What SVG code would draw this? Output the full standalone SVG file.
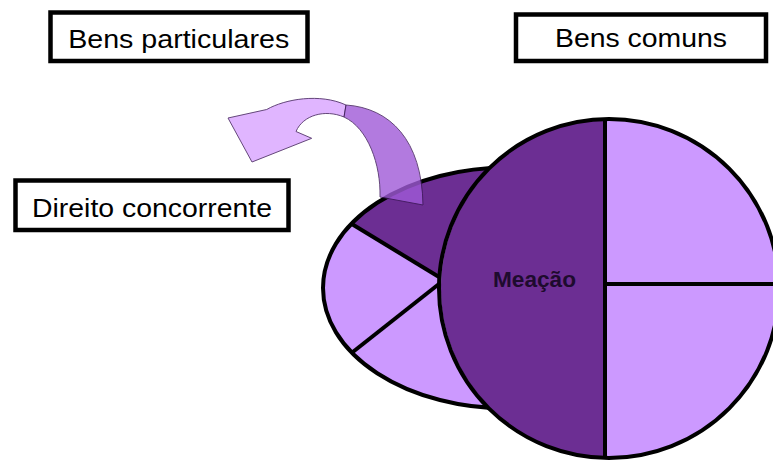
<svg xmlns="http://www.w3.org/2000/svg" width="773" height="461" viewBox="0 0 773 461">
<style>
.box{fill:#fff;stroke:#000;stroke-width:4.5}
.lbl{font-family:"Liberation Sans",Arial,sans-serif;font-size:25px;fill:#000;text-anchor:middle}
.light{fill:#CC99FF}
.dark{fill:#6C2E93}
.edge{fill:none;stroke:#000;stroke-width:4}
.arrow{stroke:#3E1A5A;stroke-width:1;opacity:0.8}
</style>
<defs>
<clipPath id="smallClip"><ellipse cx="508" cy="288" rx="185" ry="120.5"/></clipPath>
</defs>
<g id="bens-particulares">
<rect class="box" x="50.5" y="12.5" width="257" height="48.5"/>
<text class="lbl" x="178.7" y="47.7" textLength="221" lengthAdjust="spacingAndGlyphs">Bens particulares</text>
</g>
<g id="bens-comuns">
<rect class="box" x="516" y="14.5" width="250" height="46.5"/>
<text class="lbl" x="641" y="46.5" textLength="172" lengthAdjust="spacingAndGlyphs">Bens comuns</text>
</g>
<g id="direito-concorrente">
<rect class="box" x="15.5" y="180.5" width="273" height="49.5"/>
<text class="lbl" x="152" y="217" textLength="240" lengthAdjust="spacingAndGlyphs">Direito concorrente</text>
</g>
<g id="pie-particulares">
<ellipse class="light" cx="508" cy="288" rx="185" ry="120.5"/>
<polygon class="dark" clip-path="url(#smallClip)" points="444,280 330,210.8 330,150 540,150 540,280"/>
<g clip-path="url(#smallClip)">
<line x1="330" y1="210.8" x2="444" y2="280" stroke="#000" stroke-width="4"/>
<line x1="330" y1="370" x2="444" y2="280" stroke="#000" stroke-width="4"/>
</g>
<ellipse class="edge" cx="508" cy="288" rx="185" ry="120.5"/>
</g>
<g id="pie-comuns">
<ellipse class="light" cx="609" cy="288.5" rx="170" ry="169.5"/>
<path class="dark" d="M605,119.1 A170,169.5 0 0 0 605,457.9 Z"/>
<line x1="605" y1="119" x2="605" y2="458" stroke="#000" stroke-width="4"/>
<line x1="605" y1="284" x2="780" y2="284" stroke="#000" stroke-width="4"/>
<ellipse class="edge" cx="609" cy="288.5" rx="170" ry="169.5"/>
<text x="534.5" y="287" font-family="'Liberation Sans',Arial,sans-serif" font-size="22" font-weight="bold" fill="#1E0B2E" text-anchor="middle" textLength="83" lengthAdjust="spacingAndGlyphs">Meação</text>
</g>
<g id="connectors">
<path class="arrow" fill="#D9A3FF" d="M228,118 L266.7,109.5 C285,99 320,93 346,105 L344,117 C325,109 303,115 296,131.5 L311.7,138.3 L252,162 Z"/>
<path class="arrow" fill="#A05AD8" d="M346,105 C390,108 422,140 423,205 L380,197 C381,165 368,128 344,117 Z"/>
</g>
</svg>
